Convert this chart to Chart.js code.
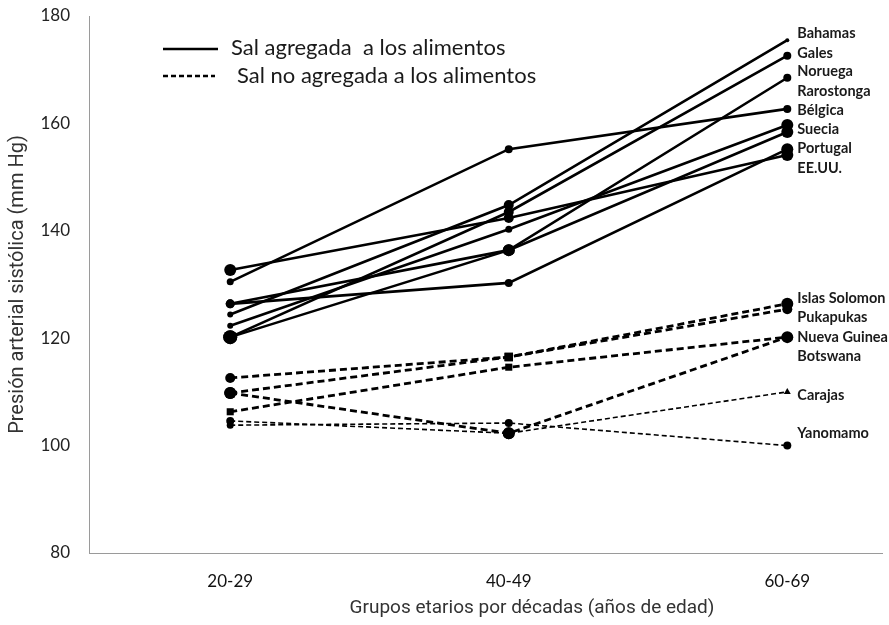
<!DOCTYPE html>
<html>
<head>
<meta charset="utf-8">
<script src="https://cdn.jsdelivr.net/npm/chart.js@4.4.0/dist/chart.umd.min.js"></script>
<style>
  html, body { margin: 0; padding: 0; background: #fff; }
</style>
</head>
<body>
<canvas id="chart" width="889" height="625"></canvas>
<script>
// datos
const ageGroups = ['20-29', '40-49', '60-69'];

const saltCountries = ['Bahamas', 'Gales', 'Noruega', 'Rarostonga', 'Bélgica', 'Suecia', 'Portugal', 'EE.UU.'];
const saltValues = [
    [124.4, 144.8, 175.5],
    [120.2, 143.5, 172.6],
    [120.2, 136.4, 168.5],
    [122.3, 140.3, 159.7],
    [130.5, 155.2, 162.7],
    [126.4, 136.4, 158.4],
    [126.4, 130.3, 155.2],
    [132.7, 142.4, 154.1]
];

const noSaltCountries = ['Islas Solomon', 'Pukapukas', 'Nueva Guinea', 'Botswana', 'Carajas', 'Yanomamo'];
const noSaltValues = [
    [112.6, 116.5, 126.4],
    [109.8, 116.5, 125.4],
    [106.3, 114.6, 120.2],
    [109.8, 102.3, 120.2],
    [104.6, 102.3, 110.0],
    [103.8, 104.2, 100.0]
];

const legendLabels = ['Sal agregada  a los alimentos', 'Sal no agregada a los alimentos'];
const xTitle = 'Grupos etarios por décadas (años de edad)';


// estilo de marcadores por serie
const saltRadius = [[3, 5, 2], [7, 5, 4], [7, 6, 4], [3, 3.5, 6], [3.5, 4, 4], [4.5, 6, 6], [4.5, 4, 6], [6, 5, 6]];
const noSaltRadius = [[5, 6, 6], [6, 6, 5], [5, 5, 6], [6, 6, 5], [4, 6, 4], [3.5, 4, 4]];
const noSaltStyle = [
    ['circle', 'rect', 'circle'],
    ['circle', 'rect', 'circle'],
    ['rect', 'rect', 'circle'],
    ['circle', 'circle', 'circle'],
    ['circle', 'circle', 'triangle'],
    ['circle', 'circle', 'circle']
];

// posiciones de las etiquetas a la derecha (en unidades del eje y)
const saltLabelAt = [176.8, 173.1, 169.7, 166.0, 162.5, 158.9, 155.4, 151.6];
const noSaltLabelAt = [127.5, 123.8, 120.2, 116.7, 109.4, 102.3];

const toPoints = (vals) => vals.map((v, i) => ({ x: i, y: v }));

const datasets = [];
saltCountries.forEach((name, i) => {
    datasets.push({
        label: name,
        data: toPoints(saltValues[i]),
        borderColor: '#000',
        backgroundColor: '#000',
        borderWidth: 2.6,
        pointRadius: saltRadius[i],
        pointBackgroundColor: '#000',
        pointBorderWidth: 0,
        tension: 0
    });
});
noSaltCountries.forEach((name, i) => {
    const thin = i >= 4;
    datasets.push({
        label: name,
        data: toPoints(noSaltValues[i]),
        borderColor: '#000',
        backgroundColor: '#000',
        borderWidth: thin ? 1.6 : 2.8,
        borderDash: thin ? [5, 3] : [7, 4],
        pointRadius: noSaltRadius[i],
        pointStyle: noSaltStyle[i],
        pointBackgroundColor: '#000',
        pointBorderWidth: 0,
        tension: 0
    });
});


// leyenda, título del eje x y nombres de países
const textPlugin = {
    id: 'textPlugin',
    afterDatasetsDraw(chart) {
        const { ctx, scales: { x, y } } = chart;
        ctx.save();

        // leyenda
        ctx.strokeStyle = '#000';
        ctx.lineWidth = 2.5;
        ctx.beginPath();
        ctx.moveTo(163, 49); ctx.lineTo(218, 49);
        ctx.stroke();
        ctx.setLineDash([5, 3]);
        ctx.beginPath();
        ctx.moveTo(163, 76); ctx.lineTo(215, 76);
        ctx.stroke();
        ctx.setLineDash([]);

        ctx.fillStyle = '#1a1a1a';
        ctx.font = '22px Lato';
        ctx.textBaseline = 'middle';
        ctx.fillText(legendLabels[0], 231, 48);
        ctx.fillText(legendLabels[1], 237, 76);

        // título eje x
        ctx.fillStyle = '#333';
        ctx.font = '19px Roboto';
        ctx.textAlign = 'center';
        ctx.fillText(xTitle, 532, 608);
        ctx.textAlign = 'left';

        // etiquetas de países
        ctx.fillStyle = '#1a1a1a';
        ctx.font = 'bold 14.5px Lato';
        const lx = x.getPixelForValue(2) + 10;
        saltCountries.forEach((c, i) => ctx.fillText(c, lx, y.getPixelForValue(saltLabelAt[i])));
        noSaltCountries.forEach((c, i) => ctx.fillText(c, lx, y.getPixelForValue(noSaltLabelAt[i])));

        ctx.restore();
    }
};


new Chart(document.getElementById('chart'), {
    type: 'line',
    data: { datasets: datasets },
    options: {
        responsive: false,
        animation: false,
        layout: { padding: { top: 16, right: 0, left: 0, bottom: 0 } },
        scales: {
            x: {
                type: 'linear',
                min: -0.507,
                max: 2.34,
                afterBuildTicks: (scale) => { scale.ticks = ageGroups.map((_, i) => ({ value: i })); },
                afterFit: (scale) => { scale.height = 72; },
                grid: { display: false, drawTicks: false },
                border: { display: true, color: '#9a9a9a', width: 1 },
                ticks: {
                    callback: (v) => ageGroups[v] || '',
                    autoSkip: false,
                    maxRotation: 0,
                    padding: 18,
                    color: '#111',
                    font: { family: 'Lato', size: 17 }
                }
            },
            y: {
                min: 80,
                max: 180,
                afterFit: (scale) => {
                    scale.width = 89;
                    scale.paddingTop = 0;
                    scale.paddingBottom = 0;
                },
                grid: { display: false, drawTicks: false },
                border: { display: true, color: '#9a9a9a', width: 1 },
                ticks: {
                    stepSize: 20,
                    padding: 19,
                    color: '#222',
                    font: { family: 'Lato', size: 17 }
                },
                title: {
                    display: true,
                    text: 'Presión arterial sistólica (mm Hg)',
                    color: '#333',
                    font: { family: 'Roboto', size: 20 },
                    padding: { top: 6, bottom: 0 }
                }
            }
        },
        plugins: {
            legend: { display: false },
            tooltip: { enabled: false }
        }
    },
    plugins: [textPlugin]
});
</script>
</body>
</html>
